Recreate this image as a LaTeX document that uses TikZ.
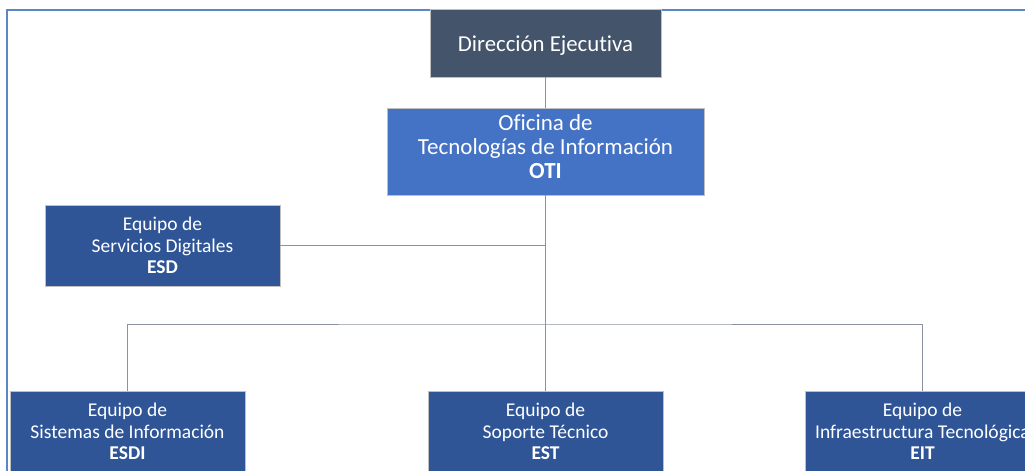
\documentclass[tikz,border=0pt]{standalone}
\usepackage{fontspec}
\setmainfont{Carlito}[Ligatures=NoCommon]
\definecolor{frameblue}{HTML}{5B87C5}
\definecolor{dirgray}{HTML}{44546A}
\definecolor{otiblue}{HTML}{4472C4}
\definecolor{teamblue}{HTML}{2F5597}
\definecolor{linkgray}{HTML}{8C93A0}
\begin{document}
\begin{tikzpicture}[x=1pt,y=-1pt,
  box/.style={rectangle, inner sep=0pt, align=center, text=white, draw=white!75!black, line width=0.6pt},
  dirbox/.style={box, fill=dirgray, minimum width=231pt, minimum height=68pt, font=\fontsize{22.8}{26}\selectfont},
  otibox/.style={box, fill=otiblue, minimum width=317pt, minimum height=87pt, font=\fontsize{23}{24}\selectfont},
  teambox/.style={box, fill=teamblue, minimum width=235pt, minimum height=81pt, font=\fontsize{19.5}{21.5}\selectfont},
  link/.style={draw=linkgray, line width=1pt},
  frame/.style={draw=frameblue, line width=2pt}
]
\clip (0,0) rectangle (1025,471);
\fill[white] (0,0) rectangle (1025,471);
% frame
\coordinate (fbl) at (7,471);
\coordinate (ftl) at (7,9.5);
\coordinate (ftr) at (1025,9.5);
\draw[frame] (fbl) -- (ftl) -- (ftr);
% nodes
\node[dirbox] (dir) at (545.5,43) {\rule{0pt}{20pt}Dirección Ejecutiva};
\node[otibox] (oti) at (545.5,151.5) {Oficina de\\Tecnologías de Información\\\textbf{OTI}\rule[-10pt]{0pt}{0pt}};
\node[teambox] (esd) at (162.5,245.5) {Equipo de\\Servicios Digitales\\\textbf{ESD}};
\node[teambox] (esdi) at (127.5,431.5) {Equipo de\\Sistemas de Información\\\textbf{ESDI}};
\node[teambox] (est) at (545.5,431.5) {Equipo de\\Soporte Técnico\\\textbf{EST}};
\node[teambox] (eit) at (922.5,431.5) {Equipo de\\Infraestructura Tecnológica\\\textbf{EIT}};
% connectors
\coordinate (bus) at (545.5,324);
\draw[link] (dir.south) -- (oti.north);
\draw[link] (oti.south) -- (bus);
\draw[link] (esd.east) -- (esd.east -| oti.south);
\draw[link] (esdi.north) |- (bus) -| (eit.north);
\draw[link] (bus) -- (est.north);
\end{tikzpicture}
\end{document}
